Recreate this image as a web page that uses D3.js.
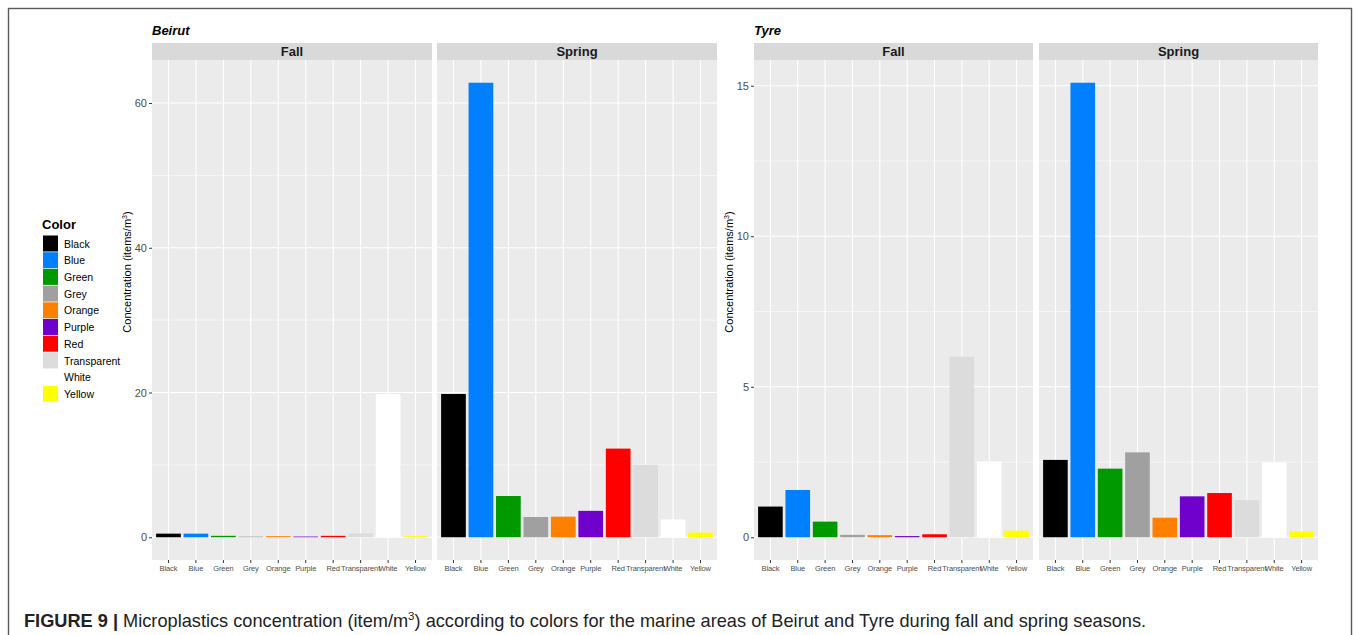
<!DOCTYPE html>
<html>
<head>
<meta charset="utf-8">
<script src="https://cdn.jsdelivr.net/npm/d3@7"></script>
<style>
  html, body { margin: 0; padding: 0; background: #fff; }
  svg { display: block; font-family: "Liberation Sans", Arial, sans-serif; }
</style>
</head>
<body>
<svg id="chart" width="1356" height="635"></svg>
<script>
// Colour categories (x axis and legend)
const colorNames = ["Black", "Blue", "Green", "Grey", "Orange", "Purple", "Red", "Transparent", "White", "Yellow"];
const colorFills = ["#000000", "#0080ff", "#009900", "#a0a0a0", "#ff8000", "#7000cc", "#ff0000", "#dcdcdc", "#ffffff", "#ffff00"];

// Concentration (items/m³) per colour
const beirutFall   = [0.5, 0.5, 0.2, 0.1, 0.15, 0.1, 0.2, 0.55, 19.8, 0.15];
const beirutSpring = [19.8, 62.8, 5.7, 2.8, 2.85, 3.65, 12.25, 10.0, 2.45, 0.65];
const tyreFall     = [1.02, 1.57, 0.52, 0.08, 0.07, 0.04, 0.1, 6.0, 2.52, 0.22];
const tyreSpring   = [2.57, 15.1, 2.28, 2.82, 0.65, 1.36, 1.47, 1.23, 2.49, 0.19];

const seasons = ["Fall", "Spring"];
const beirutTicks = [0, 20, 40, 60];
const beirutMinor = [10, 30, 50];
const tyreTicks = [0, 5, 10, 15];
const tyreMinor = [2.5, 7.5, 12.5];

const svg = d3.select("#chart");

// outer frame
svg.append("rect")
  .attr("x", 8.5).attr("y", 8.5).attr("width", 1343).attr("height", 660)
  .attr("fill", "none").attr("stroke", "#5a5a5a").attr("stroke-width", 1.4);

const panelTop = 60, panelBottom = 560, stripTop = 43;

function drawSite(cfg) {
  const g = svg.append("g");
  const maxV = d3.max(cfg.series.flat());
  const y = d3.scaleLinear()
    .domain([-0.05 * maxV, 1.05 * maxV])
    .range([panelBottom, panelTop]);

  // site title
  g.append("text")
    .attr("x", cfg.panels[0][0]).attr("y", 35)
    .attr("font-size", 13).attr("font-weight", "bold").attr("font-style", "italic")
    .attr("fill", "#000").text(cfg.title);

  cfg.panels.forEach(([x0, x1], i) => {
    const x = d3.scaleBand()
      .domain(colorNames)
      .range([x0, x1])
      .paddingInner(0.1)
      .paddingOuter(0.15);
    const p = g.append("g");

    // panel background
    p.append("rect")
      .attr("x", x0).attr("y", panelTop)
      .attr("width", x1 - x0).attr("height", panelBottom - panelTop)
      .attr("fill", "#ebebeb");

    // minor horizontal grid
    p.selectAll(".minor").data(cfg.minor).join("line")
      .attr("x1", x0).attr("x2", x1)
      .attr("y1", d => y(d)).attr("y2", d => y(d))
      .attr("stroke", "#fff").attr("stroke-width", 0.55);
    // major horizontal grid
    p.selectAll(".major").data(cfg.ticks).join("line")
      .attr("x1", x0).attr("x2", x1)
      .attr("y1", d => y(d)).attr("y2", d => y(d))
      .attr("stroke", "#fff").attr("stroke-width", 1.1);
    // vertical grid at category centres
    p.selectAll(".vgrid").data(colorNames).join("line")
      .attr("x1", d => x(d) + x.bandwidth() / 2).attr("x2", d => x(d) + x.bandwidth() / 2)
      .attr("y1", panelTop).attr("y2", panelBottom)
      .attr("stroke", "#fff").attr("stroke-width", 1.1);

    // bars
    p.selectAll(".bar").data(cfg.series[i]).join("rect")
      .attr("x", (d, j) => x(colorNames[j]))
      .attr("width", x.bandwidth())
      .attr("y", d => y(d))
      .attr("height", d => y(0) - y(d))
      .attr("fill", (d, j) => colorFills[j]);

    // strip
    p.append("rect")
      .attr("x", x0).attr("y", stripTop)
      .attr("width", x1 - x0).attr("height", panelTop - stripTop)
      .attr("fill", "#d9d9d9");
    p.append("text")
      .attr("x", (x0 + x1) / 2).attr("y", 55.5)
      .attr("text-anchor", "middle")
      .attr("font-size", 13).attr("font-weight", "bold").attr("fill", "#1a1a1a")
      .text(seasons[i]);

    // x axis
    const xa = p.append("g")
      .attr("transform", `translate(0,${panelBottom})`)
      .call(d3.axisBottom(x).tickSize(3).tickPadding(3));
    xa.select(".domain").remove();
    xa.selectAll(".tick line").attr("stroke", "#333").attr("stroke-width", 1);
    xa.selectAll(".tick text")
      .attr("font-size", 7.5).attr("fill", "#4d4d4d")
      .attr("letter-spacing", -0.1)
      .attr("font-family", "Liberation Sans, Arial, sans-serif");
  });

  // y axis on the left panel
  const ya = g.append("g")
    .attr("transform", `translate(${cfg.panels[0][0]},0)`)
    .call(d3.axisLeft(y).tickValues(cfg.ticks).tickSize(3).tickPadding(2));
  ya.select(".domain").remove();
  ya.selectAll(".tick line").attr("stroke", "#333");
  ya.selectAll(".tick text")
    .attr("font-size", 11).attr("fill", "#4d4d4d")
    .attr("font-family", "Liberation Sans, Arial, sans-serif");

  // y axis title
  const yt = g.append("text")
    .attr("transform", `translate(${cfg.panels[0][0] - 21},272) rotate(-90)`)
    .attr("text-anchor", "middle")
    .attr("font-size", 11).attr("fill", "#000");
  yt.append("tspan").text("Concentration (items/m");
  yt.append("tspan").attr("font-size", 7).attr("dy", -4).text("3");
  yt.append("tspan").attr("dy", 4).text(")");
}

drawSite({
  title: "Beirut",
  panels: [[152, 432], [437, 717]],
  series: [beirutFall, beirutSpring],
  ticks: beirutTicks,
  minor: beirutMinor
});
drawSite({
  title: "Tyre",
  panels: [[754, 1033], [1039, 1318]],
  series: [tyreFall, tyreSpring],
  ticks: tyreTicks,
  minor: tyreMinor
});

// legend
const legend = svg.append("g");
legend.append("text")
  .attr("x", 42).attr("y", 229)
  .attr("font-size", 13).attr("font-weight", "bold").attr("fill", "#000")
  .text("Color");
const keyY = d3.scaleBand().domain(colorNames).range([235.5, 235.5 + 16.7 * 10]).padding(0);
legend.selectAll(".key").data(colorNames).join("rect")
  .attr("x", 43).attr("y", d => keyY(d))
  .attr("width", 15).attr("height", keyY.bandwidth() - 0.7)
  .attr("fill", (d, i) => colorFills[i]);
legend.selectAll(".klab").data(colorNames).join("text")
  .attr("x", 64).attr("y", d => keyY(d) + keyY.bandwidth() / 2 + 3.8)
  .attr("font-size", 10.5).attr("fill", "#000")
  .text(d => d);

// caption, sized to span the frame's text column
const cap = svg.append("text")
  .attr("x", 24).attr("y", 627)
  .attr("font-size", 18.2).attr("fill", "#222");
cap.append("tspan").attr("font-weight", "bold").text("FIGURE 9 | ");
cap.append("tspan").text("Microplastics concentration (item/m");
cap.append("tspan").attr("font-size", 11.5).attr("dy", -7.5).text("3");
cap.append("tspan").attr("dy", 7.5).text(") according to colors for the marine areas of Beirut and Tyre during fall and spring seasons.");
</script>
</body>
</html>
